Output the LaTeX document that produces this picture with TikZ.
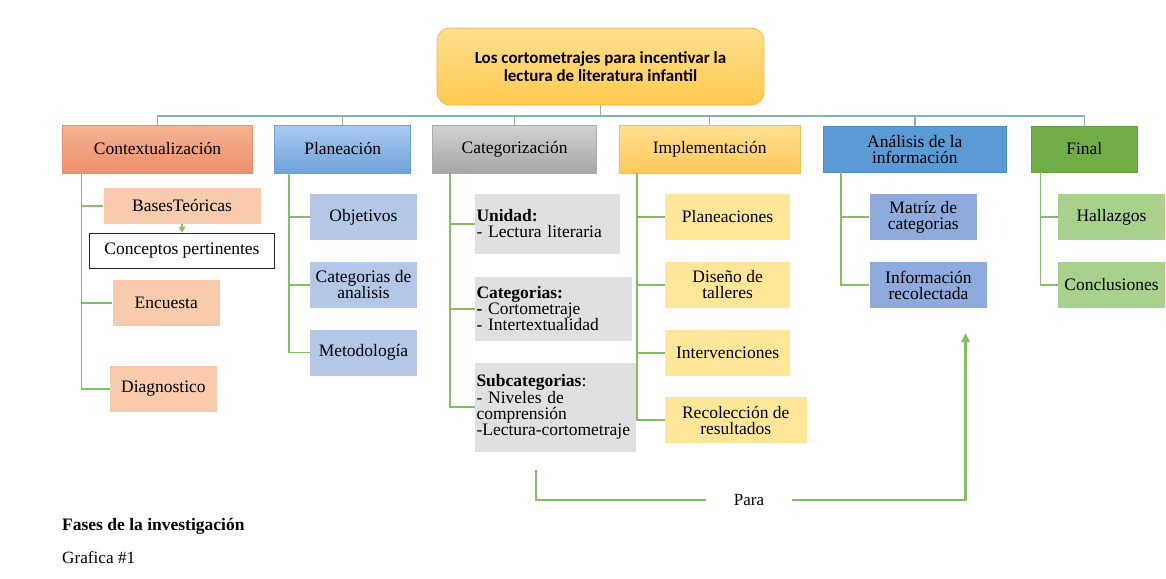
\documentclass[tikz,border=0pt]{standalone}
\usepackage{fontspec}
\setmainfont{Liberation Serif}
\newfontfamily\calib{Carlito}
\usetikzlibrary{arrows.meta,shadings}
\definecolor{topline}{HTML}{88B3B5}
\definecolor{brgreen}{HTML}{84BD63}
\definecolor{ctxTop}{HTML}{F6B393}
\definecolor{ctxBot}{HTML}{EE8E6C}
\definecolor{ctxBrd}{HTML}{E8916F}
\definecolor{plTop}{HTML}{AACBEF}
\definecolor{plBot}{HTML}{6EA2DA}
\definecolor{plBrd}{HTML}{6F9FD8}
\definecolor{caTop}{HTML}{D2D2D2}
\definecolor{caBot}{HTML}{A6A6A6}
\definecolor{caBrd}{HTML}{ABABAB}
\definecolor{imTop}{HTML}{FFE193}
\definecolor{imBot}{HTML}{FFC957}
\definecolor{imBrd}{HTML}{F5C052}
\definecolor{anFill}{HTML}{5B9BD5}
\definecolor{anBrd}{HTML}{4E8CC7}
\definecolor{fiFill}{HTML}{70AD47}
\definecolor{fiBrd}{HTML}{66A03F}
\definecolor{tiTop}{HTML}{FFE08F}
\definecolor{tiBot}{HTML}{FFC94F}
\definecolor{tiBrd}{HTML}{F2B84B}
\definecolor{ctxChild}{HTML}{F8CBAD}
\definecolor{plChild}{HTML}{B4C7E7}
\definecolor{caChild}{HTML}{E0E0E0}
\definecolor{imChild}{HTML}{FFE699}
\definecolor{anChild}{HTML}{8FAADC}
\definecolor{fiChild}{HTML}{A9D18E}
\newcommand\lblfont{\fontsize{17.5}{16}\selectfont}
\begin{document}
\begin{tikzpicture}[x=1pt,y=-1pt,
  phase/.style={font=\lblfont, align=center, inner sep=1pt, minimum height=48, line width=0.8pt},
  child/.style={font=\lblfont, align=center, inner sep=1pt, minimum height=46},
  grayitem/.style={font=\lblfont, align=left, inner xsep=1.5pt, inner ysep=1pt, fill=caChild},
  topconn/.style={draw=topline, line width=1.4pt},
  branch/.style={draw=brgreen, line width=1.8pt},
  paraline/.style={draw=brgreen, line width=2.4pt}
]
\useasboundingbox (0,0) rectangle (1166,578);
\fill[white] (0,0) rectangle (1166,578);

% title
\node[rounded corners=13pt, draw=tiBrd, line width=0.8pt, top color=tiTop, bottom color=tiBot,
      minimum width=327, minimum height=77, align=center,
      font=\calib\bfseries\fontsize{17}{17.5}\selectfont] (title) at (600.5,66.5)
  {Los cortometrajes para incentivar la\\lectura de literatura infantil};

% phases
\node[phase, draw=ctxBrd, top color=ctxTop, bottom color=ctxBot, minimum width=190] (ctx) at (157.5,149) {Contextualización};
\node[phase, draw=plBrd, top color=plTop, bottom color=plBot, minimum width=136] (plan) at (342.7,149) {Planeación};
\node[phase, draw=caBrd, top color=caTop, bottom color=caBot, minimum width=163.7] (cat) at (514.6,149) {Categorización};
\node[phase, draw=imBrd, top color=imTop, bottom color=imBot, minimum width=181.6] (impl) at (709.7,149) {Implementación};
\node[phase, draw=anBrd, fill=anFill, minimum width=182.4, minimum height=46] (anal) at (914.8,149) {Análisis de la\\información};
\node[phase, draw=fiBrd, fill=fiFill, minimum width=106.5, minimum height=46] (fin) at (1084.25,149) {Final};

% top connectors
\foreach \p in {ctx,plan,cat,impl,anal,fin}{
  \draw[topconn] (title.south) -- ++(0,10.5) -| (\p.north);
}

% Contextualizacion children
\node[child, fill=ctxChild, minimum width=157, minimum height=36.3] (bases) at (182,205.85) {BasesTeóricas};
\node[child, draw=black!85, line width=0.8pt, fill=white, minimum width=184.6, minimum height=35.4] (concept) at (182,251) {Conceptos pertinentes};
\node[child, fill=ctxChild, minimum width=107.5] (encu) at (166.25,303) {Encuesta};
\node[child, fill=ctxChild, minimum width=107.2] (diag) at (163.4,388.7) {Diagnostico};
\coordinate (ctxT) at (81.5,173.4);
\draw[branch] (ctxT) |- (bases.west);
\draw[branch] (ctxT) |- (encu.west);
\draw[branch] (ctxT) |- (diag.west);
\draw[draw=brgreen, line width=1.6pt, -{Triangle[length=6pt,width=6pt]}] (bases.south) -- (concept.north);

% Planeacion children
\node[child, fill=plChild, minimum width=107] (obj) at (363.5,217) {Objetivos};
\node[child, fill=plChild, minimum width=107] (catan) at (363.5,285) {Categorias de\\analisis};
\node[child, fill=plChild, minimum width=107] (metod) at (363.5,352.5) {Metodología};
\coordinate (plT) at (289,173.4);
\draw[branch] (plT) |- (obj.west);
\draw[branch] (plT) |- (catan.west);
\draw[branch] (plT) |- (metod.west);

% Categorizacion children
\node[grayitem, text width=141.5, minimum height=60] (unidad) at (547.25,224) {\textbf{Unidad:}\\- Lectura literaria};
\node[grayitem, text width=153.7, minimum height=64.5] (categ) at (553.35,308.75) {\textbf{Categorias:}\\\textbf{-} Cortometraje\\- Intertextualidad};
\node[grayitem, text width=157.5, minimum height=89] (subcat) at (555.25,407.2) {\textbf{Subcategorias}:\\- Niveles de\\comprensión\\-Lectura-cortometraje};
\coordinate (caT) at (449.7,173.4);
\draw[branch] (caT) |- (unidad.west);
\draw[branch] (caT) |- (categ.west);
\draw[branch] (caT) |- (subcat.west);

% Implementacion children
\node[child, fill=imChild, minimum width=125.6] (planeac) at (727.6,217) {Planeaciones};
\node[child, fill=imChild, minimum width=125.6] (diseno) at (727.6,285) {Diseño de\\talleres};
\node[child, fill=imChild, minimum width=125.6] (interv) at (727.6,352.8) {Intervenciones};
\node[child, fill=imChild, minimum width=141.5] (recol) at (735.75,420.3) {Recolección de\\resultados};
\coordinate (imT) at (637,173.4);
\draw[branch] (imT) |- (planeac.west);
\draw[branch] (imT) |- (diseno.west);
\draw[branch] (imT) |- (interv.west);
\draw[branch] (imT) |- (recol.west);

% Analisis children
\node[child, fill=anChild, minimum width=107.3] (matriz) at (923.25,217) {Matríz de\\categorias};
\node[child, fill=anChild, minimum width=117.7] (info) at (928.45,285) {Información\\recolectada};
\coordinate (anT) at (840.8,172.4);
\draw[branch] (anT) |- (matriz.west);
\draw[branch] (anT) |- (info.west);

% Final children
\node[child, fill=fiChild, minimum width=107] (hall) at (1111.5,217) {Hallazgos};
\node[child, fill=fiChild, minimum width=107] (concl) at (1111.5,285) {Conclusiones};
\coordinate (fiT) at (1040.4,172.4);
\draw[branch] (fiT) |- (hall.west);
\draw[branch] (fiT) |- (concl.west);

% Para connector
\node[font=\fontsize{17}{17}\selectfont, minimum width=85, inner sep=0pt] (para) at (749,500) {Para};
\coordinate (pstart) at (536,470);
\coordinate (ptip) at (965.6,333);
\draw[paraline] (pstart) |- (para.west);
\draw[paraline, -{Triangle[length=9pt,width=8pt]}] (para.east) -| (ptip);

% captions
\node[anchor=west, inner sep=0pt, font=\bfseries\fontsize{17.5}{18}\selectfont] (fases) at (62,526.7) {Fases de la investigación};
\node[anchor=west, inner sep=0pt, font=\fontsize{17.2}{18}\selectfont] (graf) at (62,557.3) {Grafica \#1};
\end{tikzpicture}
\end{document}
